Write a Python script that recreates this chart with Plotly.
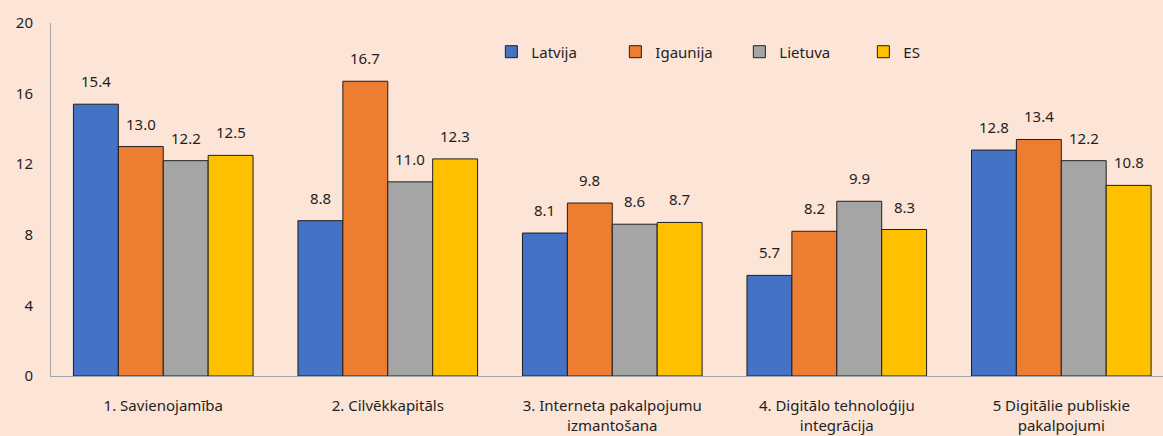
import plotly.graph_objects as go

categories = [
    "1. Savienojamība",
    "2. Cilvēkkapitāls",
    "3. Interneta pakalpojumu<br>izmantošana",
    "4. Digitālo tehnoloģiju<br>integrācija",
    "5 Digitālie publiskie<br>pakalpojumi",
]
series_names = ["Latvija", "Igaunija", "Lietuva", "ES"]
latvija = [15.4, 8.8, 8.1, 5.7, 12.8]
igaunija = [13.0, 16.7, 9.8, 8.2, 13.4]
lietuva = [12.2, 11.0, 8.6, 9.9, 12.2]
es = [12.5, 12.3, 8.7, 8.3, 10.8]
y_ticks = [0, 4, 8, 12, 16, 20]

colors = ["#4472C4", "#ED7D31", "#A5A5A5", "#FFC000"]
font_family = "Noto Sans, Open Sans, sans-serif"
text_color = "#1f1f1f"
bg = "#FCE4D6"

series = [latvija, igaunija, lietuva, es]
bar_w = 0.2
fig = go.Figure()
annotations = []
for j, (name, vals, col) in enumerate(zip(series_names, series, colors)):
    xs = [i + (j - 1.5) * bar_w for i in range(len(categories))]
    fig.add_trace(go.Bar(
        x=xs, y=vals, name=name, width=bar_w,
        marker=dict(color=col, line=dict(color="#1f1f1f", width=1)),
        hoverinfo="y+name",
    ))
    for x, v in zip(xs, vals):
        annotations.append(dict(
            x=x, y=v, xref="x", yref="y", text=f"{v:.1f}",
            showarrow=False, yanchor="middle", yshift=23,
            font=dict(family=font_family, size=15, color=text_color),
        ))

fig.update_layout(
    width=1163, height=436,
    paper_bgcolor=bg, plot_bgcolor=bg,
    margin=dict(l=51, r=0, t=23, b=60),
    barmode="overlay",
    font=dict(family=font_family, size=15, color=text_color),
    annotations=annotations,
    showlegend=True,
    legend=dict(
        orientation="h", x=0.396, y=0.918, xanchor="left", yanchor="middle",
        bgcolor="rgba(0,0,0,0)", font=dict(size=15, color=text_color),
        entrywidth=79, entrywidthmode="pixels", traceorder="normal",
    ),
    xaxis=dict(
        range=[-0.5, 4.453], tickvals=list(range(len(categories))),
        ticktext=categories, showgrid=False, zeroline=False,
        showline=True, linecolor="#A6A6A6", linewidth=1,
        ticks="", ticklabelstandoff=16,
        tickfont=dict(size=15, color=text_color),
    ),
    yaxis=dict(
        range=[0, 20], tickvals=y_ticks, showgrid=False, zeroline=False,
        showline=True, linecolor="#A6A6A6", linewidth=1,
        ticks="", ticklabelstandoff=14,
        tickfont=dict(size=15, color=text_color),
    ),
)

fig.write_html("out.html")
